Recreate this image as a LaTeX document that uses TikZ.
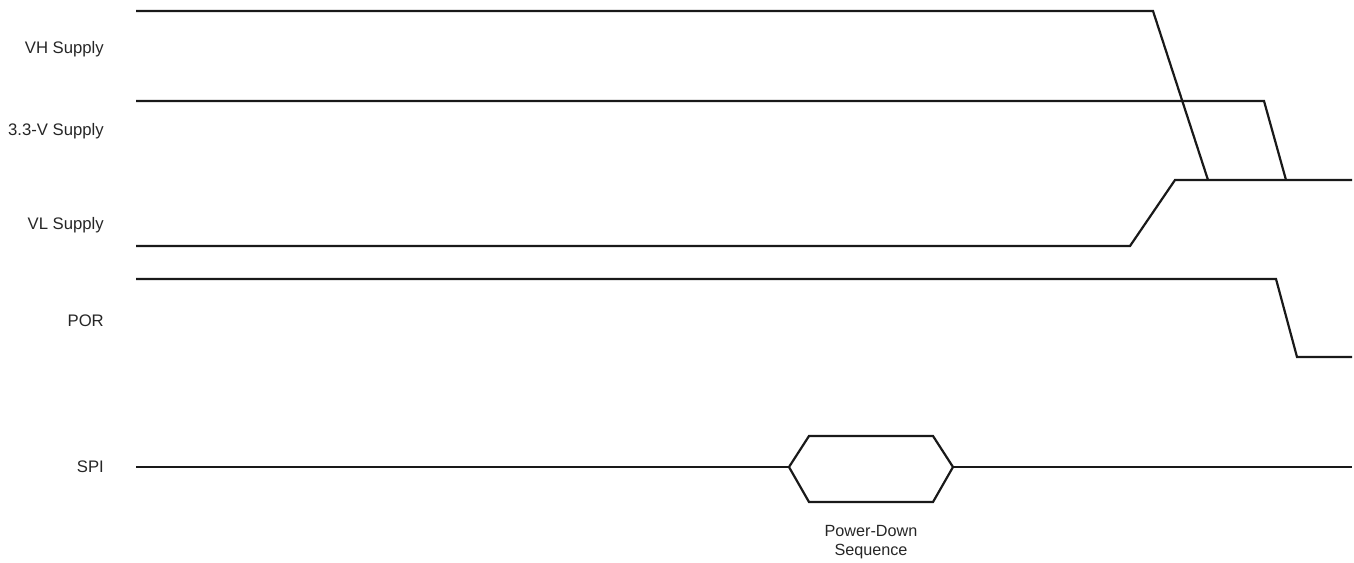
\documentclass[tikz,border=0pt]{standalone}
\usepackage{fontspec}
\setmainfont{Liberation Sans}
\begin{document}
\begin{tikzpicture}[x=1pt,y=-1pt,
  wave/.style={line width=2.2pt,line join=miter,color=black!90},
  sig/.style={anchor=east,font=\fontsize{16.7}{19}\selectfont,inner sep=0pt,text=black!85},
  note/.style={align=center,font=\fontsize{16.2}{19}\selectfont,inner sep=0pt,text=black!85}]
\useasboundingbox (0,0) rectangle (1354,562);

% signal names
\node[sig] (lvh)  at (104,49)  {VH Supply};
\node[sig] (l33)  at (104,131) {3.3-V Supply};
\node[sig] (lvl)  at (104,225) {VL Supply};
\node[sig] (lpor) at (104,321) {POR};
\node[sig] (lspi) at (104,467) {SPI};

% supply rails
\draw[wave] (136,11) -- (1153,11) -- (1208,180);
\draw[wave] (136,101) -- (1264,101) -- (1286,180);
\draw[wave] (136,246) -- (1130,246) -- (1175,180) -- (1352,180);

% power-on reset
\draw[wave] (136,279) -- (1276,279) -- (1297,357) -- (1352,357);

% SPI bus: idle, activity window, idle
\draw[wave] (136,467) -- (789,467);
\draw[wave] (789,467) -- (809,436) -- (933,436) -- (953,467)
  -- (933,502) -- (809,502) -- cycle;
\draw[wave] (953,467) -- (1352,467);

\node[note] (pd) at (871,542) {Power-Down\\Sequence};
\end{tikzpicture}
\end{document}
